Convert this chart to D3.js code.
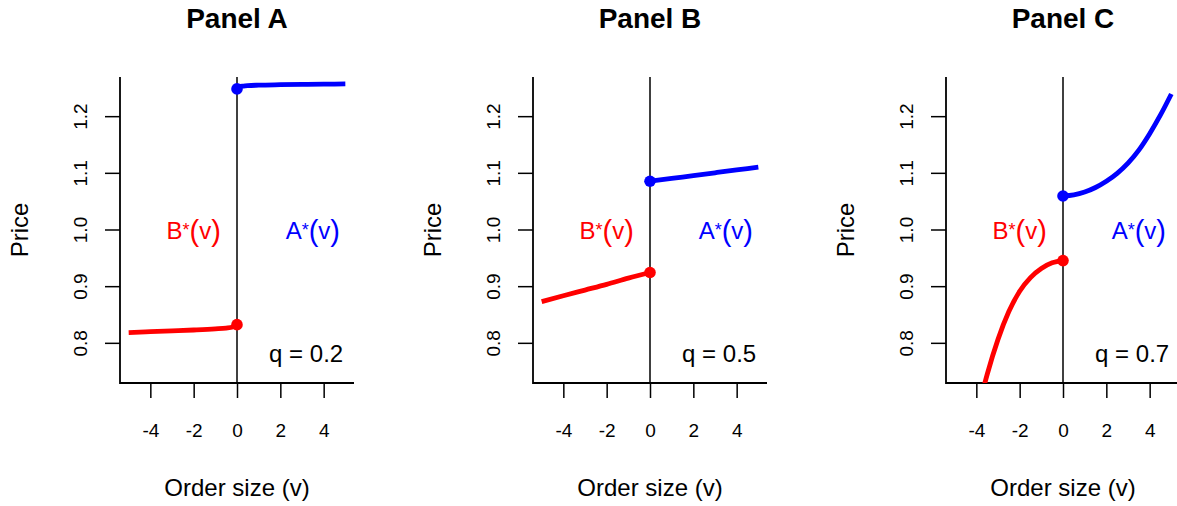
<!DOCTYPE html>
<html>
<head>
<meta charset="utf-8">
<script src="https://cdn.jsdelivr.net/npm/d3@7"></script>
<style>
  html, body { margin: 0; padding: 0; background: #fff; }
  svg { display: block; font-family: "Liberation Sans", Arial, Helvetica, sans-serif; }
</style>
</head>
<body>
<svg id="chart" width="1177" height="506"></svg>
<script>
// Panel titles and the q annotation shown in each panel
const panelTitles = ["Panel A", "Panel B", "Panel C"];
const qLabels = ["q = 0.2", "q = 0.5", "q = 0.7"];

// Axis ticks
const xTicks = [-4, -2, 0, 2, 4];
const xTickLabels = ["-4", "-2", "0", "2", "4"];
const yTicks = [0.8, 0.9, 1.0, 1.1, 1.2];
const yTickLabels = ["0.8", "0.9", "1.0", "1.1", "1.2"];

// Ask schedule A*(v) for buy orders (v >= 0)
const askVA = [0, 0.1, 0.3, 0.5, 1, 2, 3, 4, 5];
const askPA = [1.249, 1.2525, 1.254, 1.2548, 1.2556, 1.2564, 1.257, 1.2574, 1.2578];
const askVB = [0, 1, 2, 3, 4, 5];
const askPB = [1.086, 1.091, 1.096, 1.101, 1.106, 1.111];
const askVC = [0, 0.5, 1, 1.5, 2, 2.5, 3, 3.5, 4, 4.5, 5];
const askPC = [1.060, 1.062, 1.067, 1.075, 1.086, 1.100, 1.118, 1.141, 1.170, 1.203, 1.240];

// Bid schedule B*(v) for sell orders (v <= 0)
const bidVA = [-5, -4, -3, -2, -1, -0.5, -0.2, -0.1, 0];
const bidPA = [0.819, 0.8205, 0.822, 0.8235, 0.8255, 0.827, 0.829, 0.8305, 0.833];
const bidVB = [-5, -4, -3, -2, -1, 0];
const bidPB = [0.8735, 0.884, 0.894, 0.904, 0.915, 0.925];
const bidVC = [-4, -3.5, -3, -2.5, -2, -1.5, -1, -0.5, 0];
const bidPC = [0.67, 0.745, 0.807, 0.856, 0.892, 0.916, 0.932, 0.942, 0.946];

const askV = [askVA, askVB, askVC], askP = [askPA, askPB, askPC];
const bidV = [bidVA, bidVB, bidVC], bidP = [bidPA, bidPB, bidPC];

const svg = d3.select("#chart");
const plotTop = 77, plotBottom = 383, plotWidth = 234;
const panelLeft = [120, 533, 946];
const axisColor = "#000";

// shared y scale: limits 0.75..1.25 extended by 4%
const y = d3.scaleLinear().domain([0.73, 1.27]).range([plotBottom, plotTop]);

panelTitles.forEach((title, i) => {
  const left = panelLeft[i];
  const x = d3.scaleLinear().domain([-5.4, 5.4]).range([left, left + plotWidth]);
  const g = svg.append("g");

  const clipId = "clip" + i;
  svg.append("clipPath").attr("id", clipId)
    .append("rect").attr("x", left).attr("y", plotTop)
    .attr("width", plotWidth).attr("height", plotBottom - plotTop);

  // title
  g.append("text")
    .attr("x", x(0)).attr("y", 28)
    .attr("text-anchor", "middle")
    .attr("font-size", 28).attr("font-weight", "bold")
    .text(title);

  // vertical reference at v = 0
  g.append("line")
    .attr("x1", x(0)).attr("x2", x(0))
    .attr("y1", plotTop).attr("y2", plotBottom)
    .attr("stroke", axisColor).attr("stroke-width", 1.5);

  // L-shaped frame
  g.append("path")
    .attr("d", `M${left},${plotTop}V${plotBottom}H${left + plotWidth}`)
    .attr("fill", "none").attr("stroke", axisColor).attr("stroke-width", 1.8);

  // x axis
  const xAxis = d3.axisBottom(x).tickValues(xTicks).tickSize(15)
    .tickFormat((d, k) => xTickLabels[k]);
  const gx = g.append("g").attr("transform", `translate(0,${plotBottom})`).call(xAxis);
  gx.attr("font-size", null).attr("font-family", null);
  gx.select(".domain").remove();
  gx.selectAll(".tick line").attr("stroke", axisColor).attr("stroke-width", 1.5);
  gx.selectAll(".tick text").attr("font-size", 19)
    .attr("fill", "#000").attr("dy", null).attr("y", 54);

  // y axis with rotated labels
  const gy = g.append("g").attr("transform", `translate(${left},0)`);
  gy.selectAll("line.tick").data(yTicks).join("line")
    .attr("x1", -15).attr("x2", 0)
    .attr("y1", d => y(d)).attr("y2", d => y(d))
    .attr("stroke", axisColor).attr("stroke-width", 1.5);
  gy.selectAll("text.tl").data(yTicks).join("text")
    .attr("transform", (d) => `translate(-33,${y(d)}) rotate(-90)`)
    .attr("text-anchor", "middle")
    .attr("font-size", 19)
    .text((d, k) => yTickLabels[k]);

  // axis titles
  g.append("text")
    .attr("x", x(0)).attr("y", 496)
    .attr("text-anchor", "middle").attr("font-size", 24)
    .text("Order size (v)");
  g.append("text")
    .attr("transform", `translate(${left - 92},${y(1.0)}) rotate(-90)`)
    .attr("text-anchor", "middle").attr("font-size", 24)
    .text("Price");

  // price schedules
  const line = d3.line().x(d => x(d[0])).y(d => y(d[1])).curve(d3.curveMonotoneX);
  const askPts = askV[i].map((v, k) => [v, askP[i][k]]);
  const bidPts = bidV[i].map((v, k) => [v, bidP[i][k]]);
  const curves = g.append("g").attr("clip-path", `url(#${clipId})`);
  curves.append("path").attr("d", line(askPts))
    .attr("fill", "none").attr("stroke", "#0000FF").attr("stroke-width", 4.8);
  curves.append("path").attr("d", line(bidPts))
    .attr("fill", "none").attr("stroke", "#FF0000").attr("stroke-width", 4.8);

  // quotes at v = 0
  g.append("circle").attr("cx", x(0)).attr("cy", y(askP[i][0])).attr("r", 5.8).attr("fill", "#0000FF");
  g.append("circle").attr("cx", x(0)).attr("cy", y(bidP[i][bidP[i].length - 1])).attr("r", 5.8).attr("fill", "#FF0000");

  // schedule labels with small raised star and tall parentheses
  const lab = (cx, letter, color) => {
    const t = g.append("text")
      .attr("x", x(cx)).attr("y", y(1.0) + 8.5)
      .attr("text-anchor", "middle").attr("font-size", 24).attr("fill", color);
    t.append("tspan").text(letter);
    t.append("tspan").attr("font-size", 18).attr("dy", -3).text("*");
    t.append("tspan").attr("font-size", 29).attr("dy", 5).text("(");
    t.append("tspan").attr("font-size", 24).attr("dy", -2).text("v");
    t.append("tspan").attr("font-size", 29).attr("dy", 2).text(")");
  };
  lab(-2, "B", "#FF0000");
  lab(3.5, "A", "#0000FF");

  // q annotation
  g.append("text")
    .attr("x", x(4.9)).attr("y", 362)
    .attr("text-anchor", "end").attr("font-size", 24)
    .text(qLabels[i]);
});
</script>
</body>
</html>
